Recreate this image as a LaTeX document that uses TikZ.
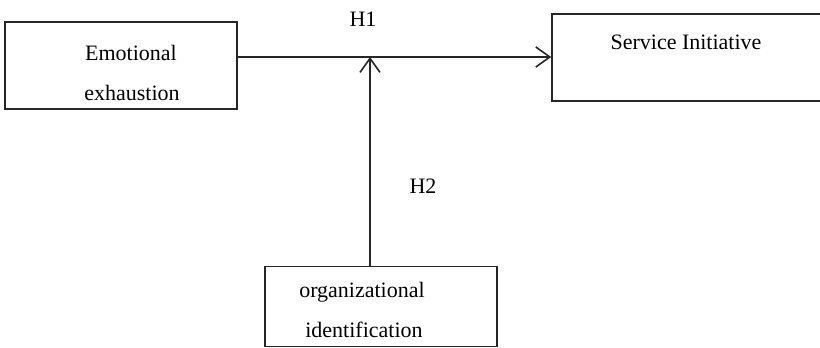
\documentclass[tikz,border=0pt]{standalone}
\usepackage{fontspec}
\setmainfont{Liberation Serif}
\usetikzlibrary{arrows.meta}
\begin{document}
\begin{tikzpicture}[x=1pt,y=-1pt,
  box/.style={draw=black!85, line width=1.6pt, inner sep=0pt},
  lbl/.style={anchor=base, inner sep=0pt, font=\fontsize{22}{26}\selectfont},
  conn/.style={draw=black!85, line width=1.6pt, -{Straight Barb[length=14pt,width=20pt,line width=1.6pt]}}]
\useasboundingbox (0,0) rectangle (820,348);
% boxes
\node[box, minimum width=232pt, minimum height=87pt] (ee) at (121,65.5) {};
\node[box, minimum width=270pt, minimum height=87pt] (si) at (687,57.5) {};
\node[box, minimum width=232pt, minimum height=80pt] (oi) at (381,306.5) {};
% labels
\node[lbl] (ee1) at (131,60) {Emotional};
\node[lbl] (ee2) at (132,100) {exhaustion};
\node[lbl] (si1) at (686,49) {Service Initiative};
\node[lbl] (oi1) at (362,297) {organizational};
\node[lbl] (oi2) at (364,337) {identification};
\node[lbl] (h1) at (363,26) {H1};
\node[lbl] (h2) at (423,193) {H2};
% connectors
\coordinate (j) at (370,57);
\draw[conn] (j -| ee.east) -- (j -| si.west);
\draw[conn] (j |- oi.north) -- (j);
\end{tikzpicture}
\end{document}
